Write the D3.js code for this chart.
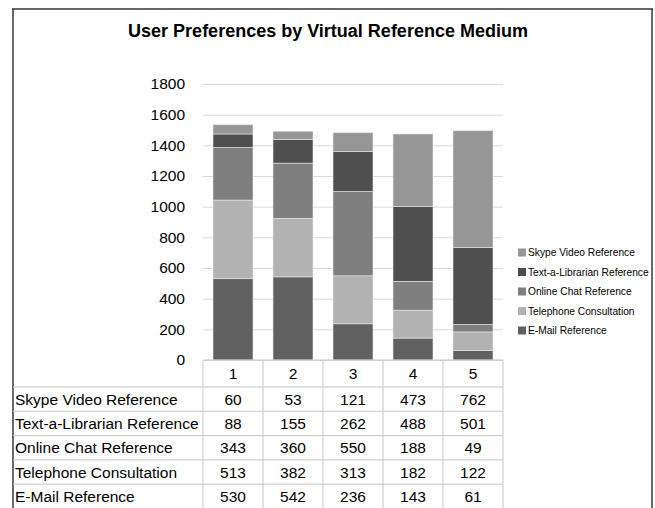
<!DOCTYPE html>
<html><head><meta charset="utf-8">
<script src="https://cdn.jsdelivr.net/npm/d3@7"></script>
<style>
html,body{margin:0;padding:0;background:#fff;}
svg{display:block;font-family:Arial,"Liberation Sans",sans-serif;}
</style></head>
<body>
<svg id="chart" width="655" height="508"></svg>
<script>
const categories = ["1","2","3","4","5"];
const seriesNames = ["Skype Video Reference","Text-a-Librarian Reference","Online Chat Reference","Telephone Consultation","E-Mail Reference"];
const skype = [60,53,121,473,762];
const textLib = [88,155,262,488,501];
const onlineChat = [343,360,550,188,49];
const telephone = [513,382,313,182,122];
const email = [530,542,236,143,61];
const colors = ["#969696","#4f4f4f","#7f7f7f","#b2b2b2","#606060"];
const yTicks = [0,200,400,600,800,1000,1200,1400,1600,1800];

const seriesValues = [skype,textLib,onlineChat,telephone,email];
const svg = d3.select("#chart");

// outer frame
svg.append("line").attr("x1",13).attr("x2",13).attr("y1",9).attr("y2",508).attr("stroke","#6a6a6a").attr("stroke-width",2);
svg.append("line").attr("x1",652).attr("x2",652).attr("y1",9).attr("y2",508).attr("stroke","#6a6a6a").attr("stroke-width",2);
svg.append("line").attr("x1",12).attr("x2",653).attr("y1",9).attr("y2",9).attr("stroke","#333").attr("stroke-width",1.5);

// title
svg.append("text").attr("x",328).attr("y",37).attr("text-anchor","middle")
  .attr("font-size",18).attr("font-weight","bold").attr("fill","#000")
  .text("User Preferences by Virtual Reference Medium");

const x = d3.scaleBand().domain(categories).range([203,503]).paddingInner(1/3).paddingOuter(1/6);
const y = d3.scaleLinear().domain([0,1800]).range([360,84]);

// gridlines
const grid = svg.append("g").attr("transform","translate(203,0)")
  .call(d3.axisLeft(y).tickValues(yTicks).tickSize(-300).tickFormat(""));
grid.select(".domain").remove();
grid.selectAll("line").attr("stroke","#d9d9d9").attr("stroke-width",1);

// y labels
const ya = svg.append("g").attr("transform","translate(203,0)")
  .call(d3.axisLeft(y).tickValues(yTicks).tickSize(0).tickPadding(18).tickFormat(d3.format("d")));
ya.select(".domain").remove();
ya.selectAll("text").attr("font-size",15.5).attr("fill","#000").attr("font-family","Arial, 'Liberation Sans', sans-serif");

// stacked bars: bottom to top E-Mail, Telephone, Online Chat, Text, Skype
const table = categories.map((c,i)=>{
  const o = {cat:c};
  seriesNames.forEach((s,j)=>o[s]=seriesValues[j][i]);
  return o;
});
const stackKeys = seriesNames.slice().reverse();
const stacked = d3.stack().keys(stackKeys)(table);
svg.append("g").selectAll("g").data(stacked).join("g")
  .attr("fill", d => colors[seriesNames.indexOf(d.key)])
  .selectAll("rect").data(d=>d).join("rect")
  .attr("x", d=>x(d.data.cat))
  .attr("width", x.bandwidth())
  .attr("y", d=>y(d[1]))
  .attr("height", d=>y(d[0])-y(d[1]))
  .attr("stroke","#e6e6e6").attr("stroke-width",0.6);

// data table
const headerTop = 360, headerBottom = 387, rowH = 24.3;
const tg = svg.append("g");
const lineColor = "#c6c6c6";
tg.append("line").attr("x1",203).attr("x2",503).attr("y1",headerTop).attr("y2",headerTop).attr("stroke",lineColor);
for(let r=0;r<=5;r++){
  const yy = headerBottom + r*rowH;
  tg.append("line").attr("x1",13).attr("x2",503).attr("y1",yy).attr("y2",yy).attr("stroke",lineColor);
}
const colEdges = d3.range(categories.length+1).map(i=>x.range()[0]+i*x.step());
colEdges.forEach(cx=>{
  tg.append("line").attr("x1",cx).attr("x2",cx).attr("y1",headerTop).attr("y2",508).attr("stroke",lineColor);
});
tg.selectAll("text.hdr").data(categories).join("text").attr("class","hdr")
  .attr("x", c=>x(c)+x.bandwidth()/2).attr("y",(headerTop+headerBottom)/2+5.5)
  .attr("text-anchor","middle").attr("font-size",15.5).attr("fill","#000").text(c=>c);
seriesNames.forEach((s,j)=>{
  const cy = headerBottom + j*rowH + rowH/2 + 5.5;
  tg.append("text").attr("x",15).attr("y",cy).attr("font-size",15.5).attr("fill","#000").text(s);
  tg.selectAll("text.v"+j).data(seriesValues[j]).join("text").attr("class","v"+j)
    .attr("x",(d,i)=>x(categories[i])+x.bandwidth()/2).attr("y",cy)
    .attr("text-anchor","middle").attr("font-size",15.5).attr("fill","#000").text(d=>d);
});

// legend
const lg = svg.append("g");
seriesNames.forEach((s,j)=>{
  const cy = 252.5 + j*19.5;
  lg.append("rect").attr("x",518).attr("y",cy-4).attr("width",8).attr("height",8).attr("fill",colors[j]);
  lg.append("text").attr("x",528).attr("y",cy+3.6).attr("font-size",10.2).attr("fill","#000").text(s);
});
</script>
</body></html>
